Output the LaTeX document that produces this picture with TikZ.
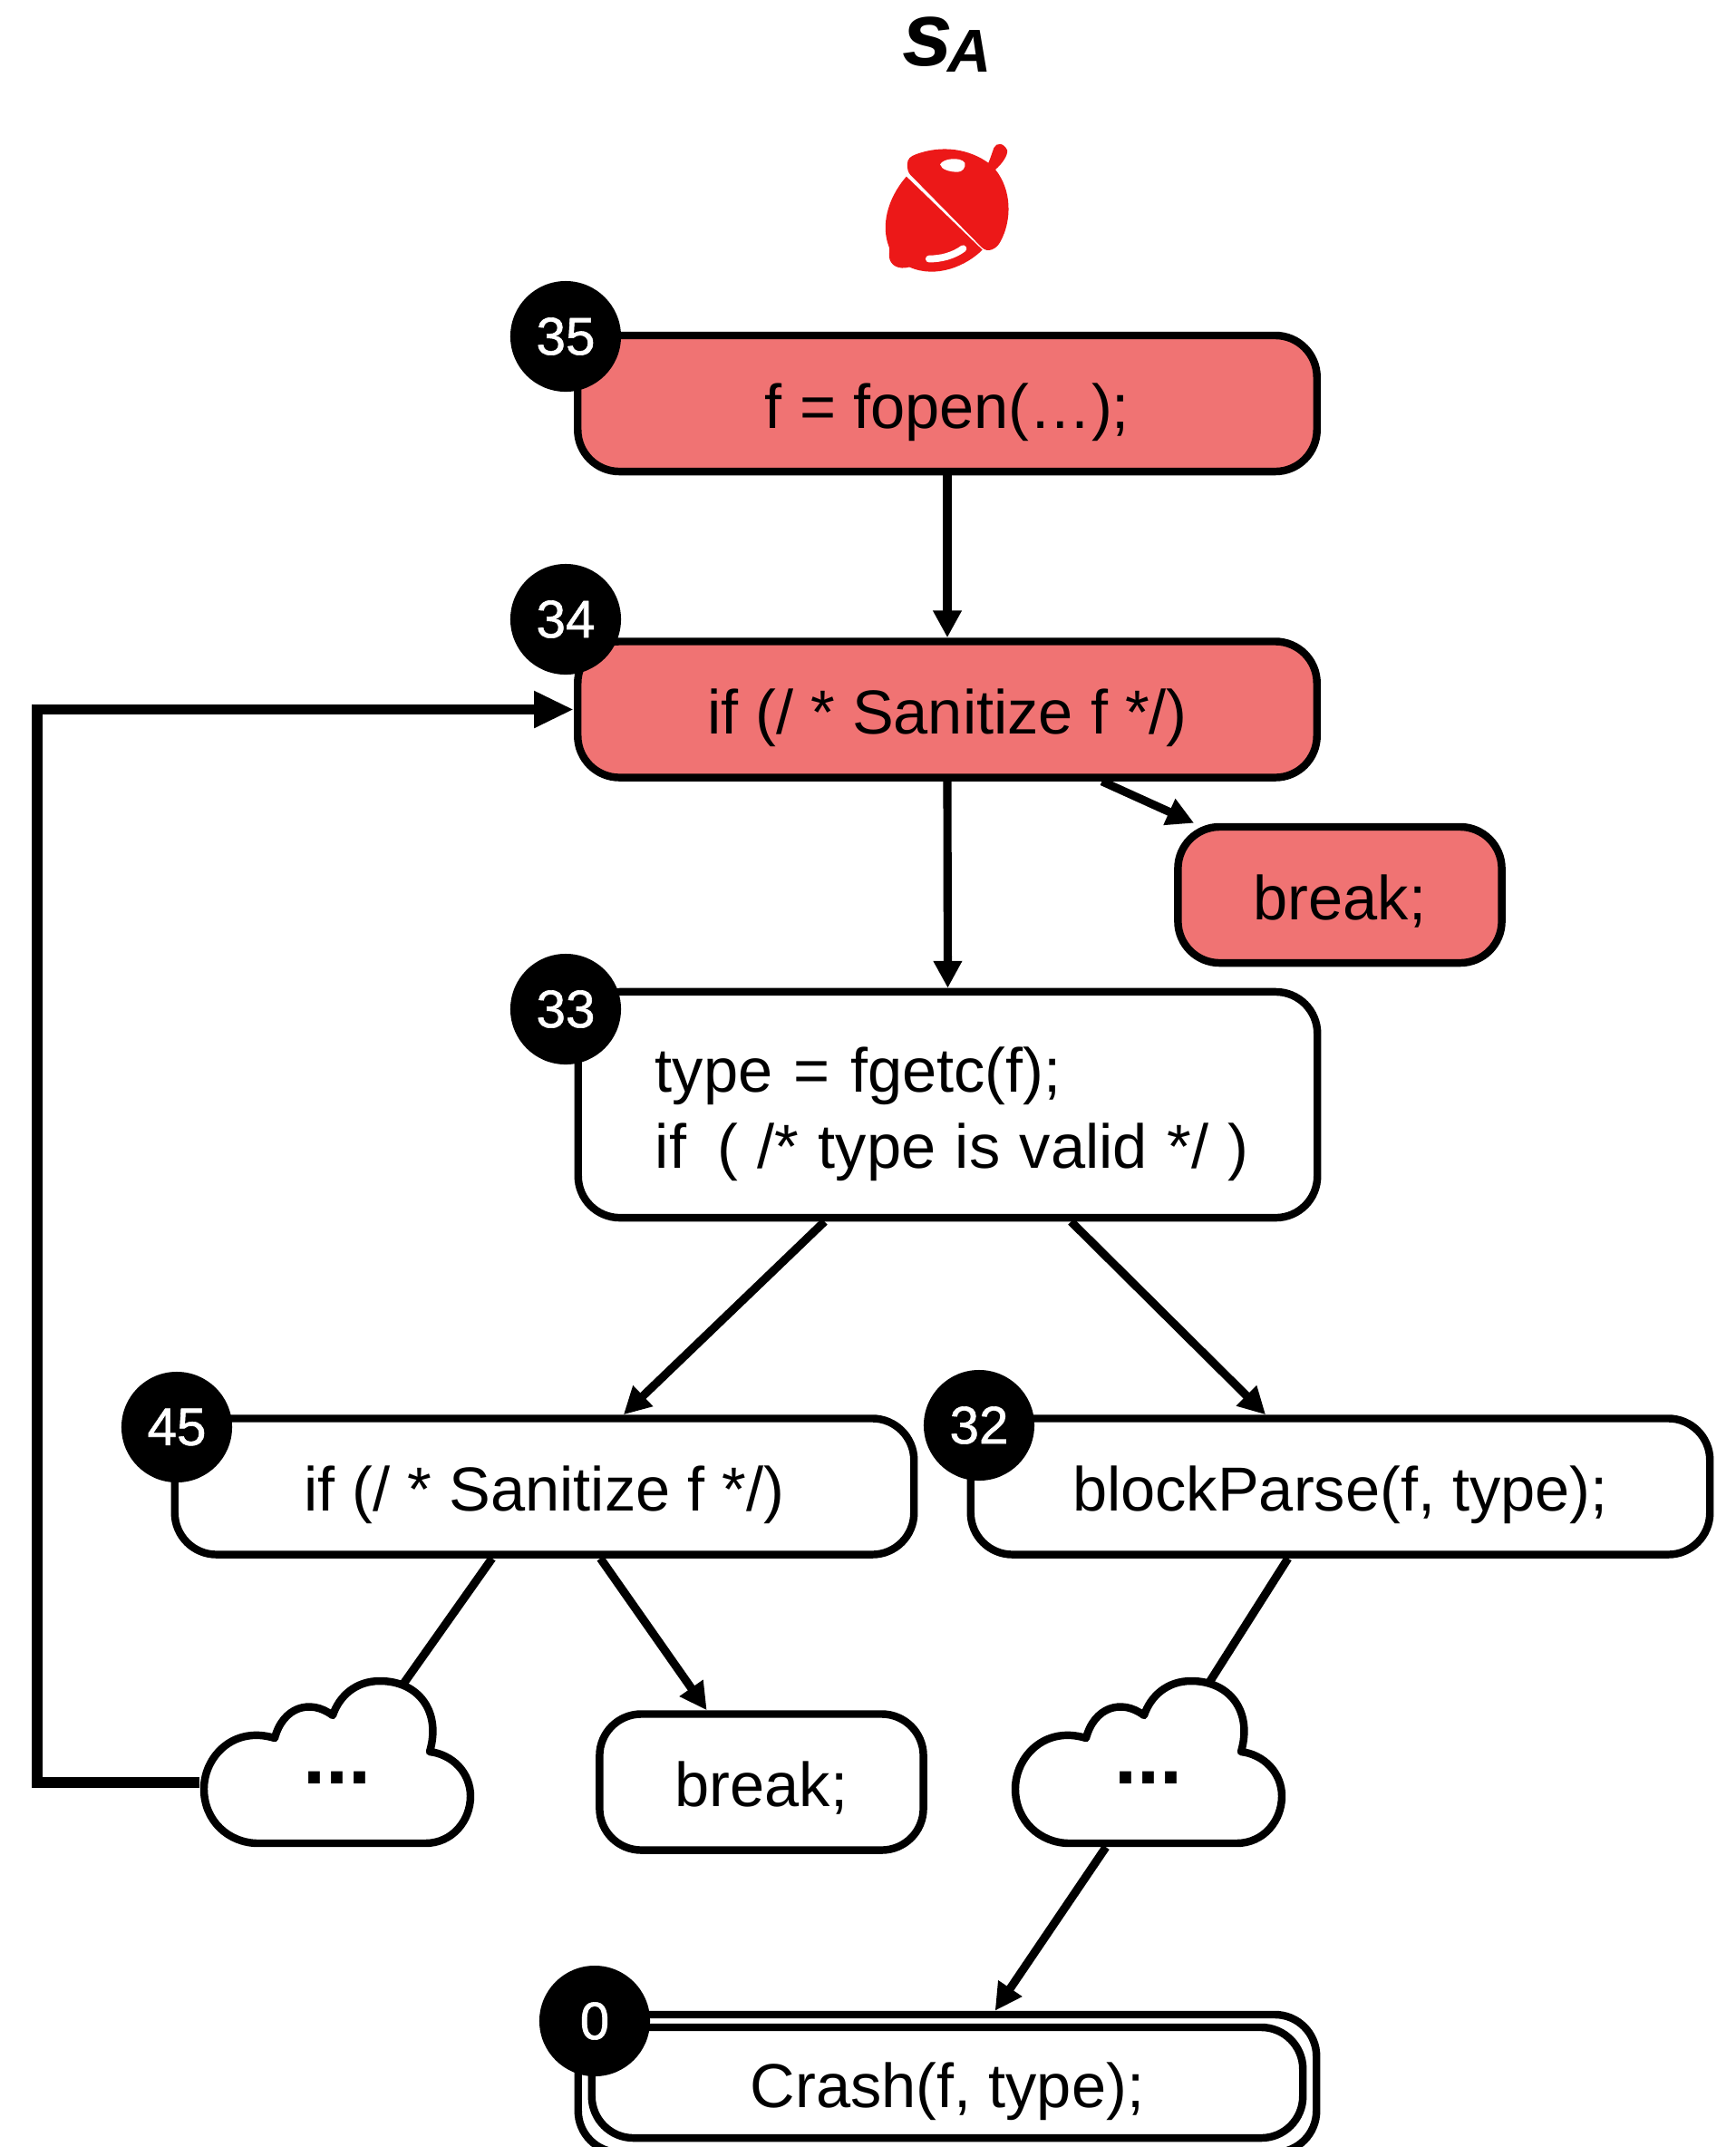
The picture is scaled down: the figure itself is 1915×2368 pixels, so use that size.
\documentclass[tikz,border=0pt]{standalone}
\usepackage{fontspec}
\setmainfont{Liberation Sans}
\newfontfamily\badgefont[FakeBold=1]{Liberation Sans}
\usetikzlibrary{arrows.meta,calc}
\definecolor{boxred}{HTML}{F07373}
\definecolor{acornred}{HTML}{EC1818}

% cloud outline with its dots, centred at (#2,#3)
\newcommand{\cloudat}[3]{%
  \draw[cloudline, shift={(#2,#3)}] (-87,90) -- (97,90)
    .. controls (127,90) and (147,65) .. (147,38)
    .. controls (147,12) and (127,-8) .. (102,-11)
    .. controls (115,-55) and (90,-89) .. (47,-89)
    .. controls (20,-89) and (2,-72) .. (-5,-51)
    .. controls (-30,-70) and (-60,-60) .. (-69,-26)
    .. controls (-115,-40) and (-147,-5) .. (-147,30)
    .. controls (-147,65) and (-120,90) .. (-87,90) -- cycle;
  \node[dotsnode] (#1) at (#2,#3) {...};
}

\begin{document}
\begin{tikzpicture}[
    x=0.01cm, y=-0.01cm,
    box/.style={rectangle, rounded corners=0.46cm, minimum width=8.15cm,
                minimum height=1.50cm, draw, line width=2.4pt, inner sep=0pt,
                font=\fontsize{19.5}{23.9}\selectfont},
    oneline/.style={text height=16.5pt, text depth=1pt},
    smallbox/.style={box, oneline, minimum width=3.57cm},
    badge/.style={circle, fill=black, text=white, minimum size=1.22cm, inner sep=0pt,
                  font=\fontsize{16.6}{18}\badgefont},
    cloudline/.style={draw, fill=white, line width=2.4pt, line join=round},
    dotsnode/.style={rectangle, minimum width=3.02cm, minimum height=1.87cm, inner sep=0pt,
                     text height=15pt, text depth=0.8pt,
                     font=\fontsize{25.6}{28}\selectfont\bfseries},
    arr/.style={-{Triangle[length=8.5pt,width=8.5pt]}, line width=2.6pt},
    plain/.style={line width=2.6pt, shorten >=-3pt},
    backarr/.style={-{Triangle[length=12.5pt,width=10.8pt]}, line width=3.2pt}
  ]
  \useasboundingbox (0,0) rectangle (1915,2368);

  % ---- Title ----
  \node[font=\fontsize{28.5}{30}\selectfont\bfseries\itshape, inner sep=0pt, anchor=base west]
    (title) at (995,72) {s\kern-1.6pt\raisebox{-2pt}{\fontsize{19}{20}\selectfont A}};

  % ---- Acorn ----
  \begin{scope}[shift={(900,0)}, x=0.00333cm, y=-0.00333cm]
    \fill[acornred] (303,545) .. controls (303,525) and (315,518) .. (330,512)
      .. controls (420,478) and (510,495) .. (572,540)
      .. controls (578,525) and (583,510) .. (590,490)
      .. controls (598,472) and (622,472) .. (634,497)
      .. controls (638,515) and (615,545) .. (595,562)
      .. controls (650,630) and (650,730) .. (612,800)
      .. controls (600,825) and (570,840) .. (550,820)
      -- (312,578) .. controls (305,570) and (303,558) .. (303,545) -- cycle;
    \fill[acornred] (300,585) -- (552,828)
      .. controls (500,880) and (400,925) .. (310,885)
      .. controls (275,895) and (245,880) .. (243,850)
      .. controls (243,835) and (245,825) .. (243,820)
      .. controls (215,750) and (235,660) .. (300,585) -- cycle;
    \fill[white] (412,545) .. controls (420,525) and (480,518) .. (494,540)
      .. controls (498,555) and (485,570) .. (470,570)
      .. controls (445,570) and (415,562) .. (412,545) -- cycle;
    \draw[white, line width=2.2pt, line cap=round] (375,858) .. controls (415,858) and (455,848) .. (488,824);
  \end{scope}

  % ============ BOXES ============
  \node[box, oneline, fill=boxred] (fopen) at (1045,445) {f = fopen(…);};
  \node[box, oneline, fill=boxred] (sanitizeA) at (1045,782.5) {if (/ * Sanitize f */)};
  \node[smallbox, fill=boxred] (breakA) at (1478,987) {break;};
  \node[box, minimum height=2.49cm, align=left, text width=6.45cm]
    (fgetc) at (1045.5,1218.5) {\rule{0pt}{20pt}type = fgetc(f);\\\mbox{\spaceskip=0.313em\relax if\hspace{0.5em}( /* type is valid */ )}};
  \node[box, oneline] (sanitizeB) at (600.5,1639.5) {if (/ * Sanitize f */)};
  \node[box, oneline] (parse) at (1478.5,1639.5) {blockParse(f, type);};
  \node[smallbox] (breakB) at (840,1965.5) {break;};

  % Crash box (double outline)
  \node[box, minimum width=8.14cm, minimum height=1.52cm] (crashout) at (1045,2298) {};
  \node[box, oneline, minimum width=7.84cm, minimum height=1.22cm] (crash) at (1045,2297) {Crash(f, type);};

  % ============ CLOUDS ============
  \cloudat{cloudL}{372}{1943}
  \cloudat{cloudR}{1267}{1943}

  % ============ ARROWS ============
  \draw[arr] (fopen.south) -- (sanitizeA.north);
  \draw[arr] (sanitizeA.south) -- (fgetc.north);
  \draw[arr] ($(sanitizeA.south west)!0.707!(sanitizeA.south east)$)
    -- ($(breakA.north west)!0.06!(breakA.north east)$);
  \draw[arr] ($(fgetc.south west)!0.335!(fgetc.south east)$)
    -- ($(sanitizeB.north west)!0.606!(sanitizeB.north east)$);
  \draw[arr] ($(fgetc.south west)!0.665!(fgetc.south east)$)
    -- ($(parse.north west)!0.4!(parse.north east)$);
  \draw[arr] ($(sanitizeB.south west)!0.575!(sanitizeB.south east)$)
    -- ($(breakB.north west)!0.335!(breakB.north east)$);
  \draw[plain] ($(sanitizeB.south west)!0.43!(sanitizeB.south east)$)
    -- ($(cloudL.north west)!0.76!(cloudL.north east)$);
  \draw[plain] ($(parse.south west)!0.43!(parse.south east)$)
    -- ($(cloudR.north west)!0.735!(cloudR.north east)$);
  \draw[arr] ($(cloudR.south west)!0.345!(cloudR.south east)$)
    -- ($(crashout.north west)!0.564!(crashout.north east)$);

  % loop back
  \coordinate (loopcorner) at (41,1966);
  \draw[backarr] ($(cloudL.west)+(0,23)$) -- (loopcorner) |- (sanitizeA.west);

  % ============ BADGES ============
  \node[badge] (n35) at (624,371) {35};
  \node[badge] (n34) at (624,683) {34};
  \node[badge] (n33) at (624,1113) {33};
  \node[badge] (n45) at (195,1574) {45};
  \node[badge] (n32) at (1080,1572) {32};
  \node[badge] (n0) at (656,2229) {0};

\end{tikzpicture}
\end{document}
